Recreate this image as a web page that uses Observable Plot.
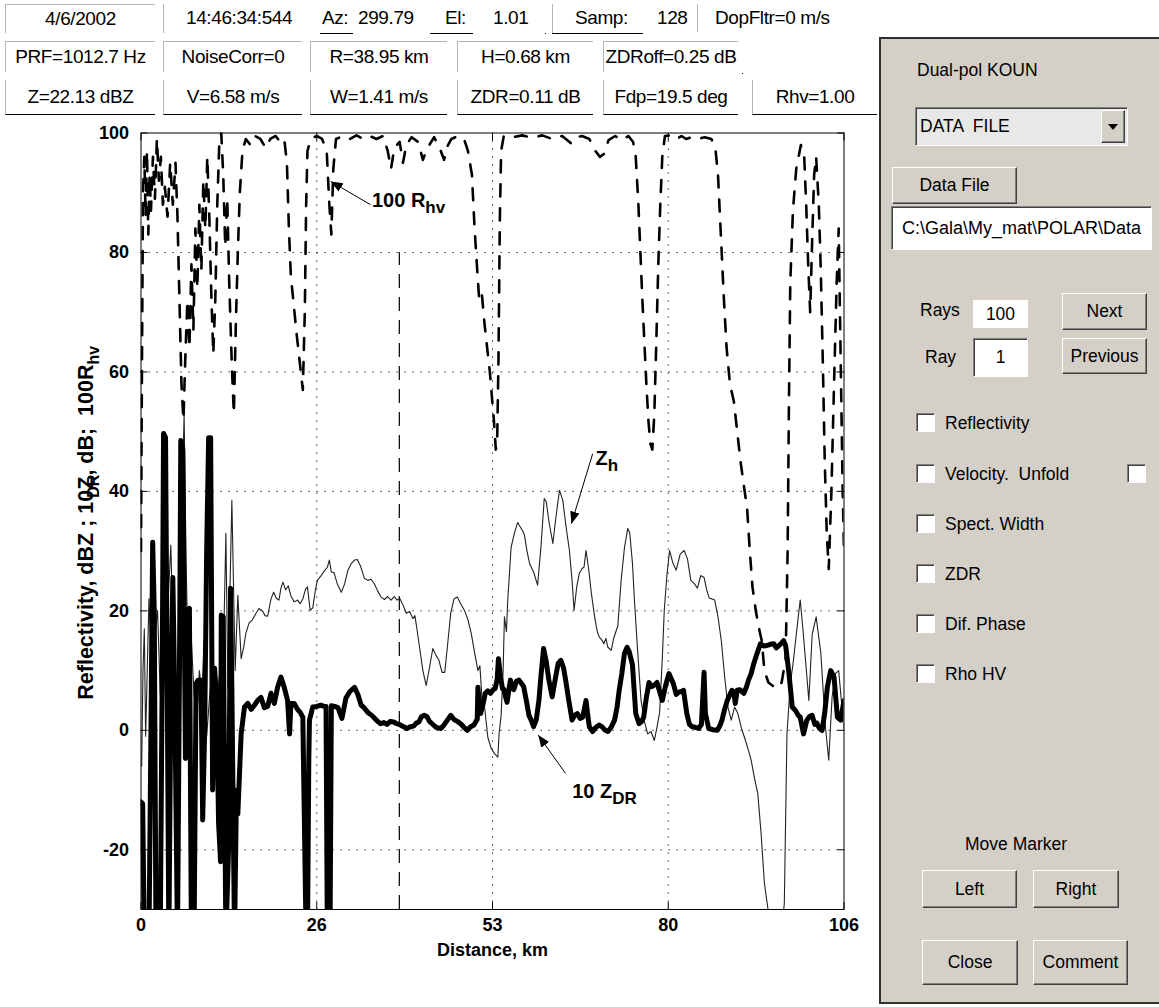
<!DOCTYPE html>
<html><head><meta charset="utf-8">
<script src="https://cdn.jsdelivr.net/npm/d3@7"></script>
<script src="https://cdn.jsdelivr.net/npm/@observablehq/plot@0.6"></script>
<style>
body{margin:0;background:#fff;font-family:"Liberation Sans",Arial,sans-serif;color:#000;}
#page{position:relative;width:1159px;height:1007px;overflow:hidden;background:#fff;}
#chart{position:absolute;left:0;top:0;width:875px;height:1007px;}
.tx{position:absolute;height:30px;display:flex;align-items:center;font-size:19px;letter-spacing:-0.4px;white-space:pre;}
.fld{position:absolute;box-sizing:border-box;display:flex;align-items:center;justify-content:center;font-size:19px;letter-spacing:-0.4px;white-space:pre;}
.r2{top:41px;height:31px;border-top:1px solid #b4b4b4;border-left:1px solid #b4b4b4;}
.r3{top:80px;height:35px;border-left:1px solid #b4b4b4;border-bottom:1px solid #000;}
.vl{position:absolute;width:1px;background:#b4b4b4;}
.hl{position:absolute;height:1px;background:#000;}
#panel{position:absolute;left:879px;top:37px;width:300px;height:967px;box-sizing:border-box;background:#d4d0c8;border:2px solid #303030;}
.pt{position:absolute;font-size:17.5px;white-space:pre;display:flex;align-items:center;}
.btn{position:absolute;box-sizing:border-box;background:#d4d0c8;border:1px solid;border-color:#fff #404040 #404040 #fff;box-shadow:inset -1px -1px #808080;display:flex;align-items:center;justify-content:center;font-size:17.5px;white-space:pre;}
.sunk{position:absolute;box-sizing:border-box;background:#fff;border:1px solid;border-color:#808080 #fff #fff #808080;box-shadow:inset 1px 1px #404040;display:flex;align-items:center;font-size:17.5px;white-space:pre;}
.cb{position:absolute;width:19px;height:19px;box-sizing:border-box;background:#fff;border:1px solid;border-color:#808080 #fff #fff #808080;box-shadow:inset 1px 1px #404040;}
</style></head>
<body>
<div id="page">
<div id="chart"></div>

<!-- header row 1 -->
<div class="fld" style="left:5px;top:4px;width:150px;height:29px;border-top:1px solid #b4b4b4;border-left:1px solid #b4b4b4;">4/6/2002</div>
<div class="vl" style="left:163px;top:4px;height:29px;"></div>
<div class="tx" style="left:186px;top:3px;">14:46:34:544</div>
<div class="tx" style="left:322px;top:3px;">Az:</div>
<div class="hl" style="left:320px;top:33px;width:33px;"></div>
<div class="tx" style="left:358px;top:3px;">299.79</div>
<div class="tx" style="left:445px;top:3px;">El:</div>
<div class="hl" style="left:430px;top:33px;width:43px;"></div>
<div class="tx" style="left:493px;top:3px;">1.01</div>
<div class="hl" style="left:545px;top:33px;width:1px;"></div>
<div class="vl" style="left:552px;top:4px;height:29px;"></div>
<div class="hl" style="left:552px;top:33px;width:91px;"></div>
<div class="tx" style="left:575px;top:3px;">Samp:</div>
<div class="tx" style="left:657px;top:3px;">128</div>
<div class="vl" style="left:697px;top:4px;height:28px;"></div>
<div class="tx" style="left:715px;top:3px;">DopFltr=0 m/s</div>
<!-- header row 2 -->
<div class="fld r2" style="left:5px;width:150px;">PRF=1012.7 Hz</div>
<div class="fld r2" style="left:163px;width:139px;">NoiseCorr=0</div>
<div class="fld r2" style="left:310px;width:137px;">R=38.95 km</div>
<div class="fld r2" style="left:457px;width:136px;">H=0.68 km</div>
<div class="fld r2" style="left:603px;width:135px;">ZDRoff=0.25 dB</div>
<div class="hl" style="left:742px;top:73px;width:1px;"></div>
<!-- header row 3 -->
<div class="fld r3" style="left:5px;width:150px;">Z=22.13 dBZ</div>
<div class="fld r3" style="left:163px;width:139px;">V=6.58 m/s</div>
<div class="fld r3" style="left:310px;width:137px;">W=1.41 m/s</div>
<div class="fld r3" style="left:457px;width:136px;">ZDR=0.11 dB</div>
<div class="fld r3" style="left:603px;width:135px;">Fdp=19.5 deg</div>
<div class="fld r3" style="left:752px;width:125px;">Rhv=1.00</div>

<!-- right panel -->
<div id="panel"></div>
<div class="pt" style="left:917px;top:60px;height:20px;">Dual-pol KOUN</div>
<div class="sunk" style="left:915px;top:107px;width:213px;height:39px;background:#e8e8e8;padding-left:4px;">DATA  FILE</div>
<div class="btn" style="left:1101px;top:110px;width:24px;height:33px;"><div style="width:0;height:0;border-left:5px solid transparent;border-right:5px solid transparent;border-top:6px solid #000;"></div></div>
<div class="btn" style="left:892px;top:167px;width:125px;height:37px;">Data File</div>
<div class="sunk" style="left:891px;top:206px;width:261px;height:44px;padding-left:10px;font-size:18px;">C:\Gala\My_mat\POLAR\Data</div>
<div class="pt" style="left:920px;top:300px;height:20px;">Rays</div>
<div class="sunk" style="left:973px;top:300px;width:55px;height:28px;justify-content:center;border:none;box-shadow:none;">100</div>
<div class="btn" style="left:1062px;top:293px;width:85px;height:37px;">Next</div>
<div class="pt" style="left:925px;top:347px;height:20px;">Ray</div>
<div class="sunk" style="left:973px;top:338px;width:55px;height:39px;justify-content:center;">1</div>
<div class="btn" style="left:1062px;top:338px;width:85px;height:36px;">Previous</div>
<div class="cb" style="left:916px;top:413px;"></div><div class="pt" style="left:945px;top:413px;height:20px;">Reflectivity</div>
<div class="cb" style="left:916px;top:464px;"></div><div class="pt" style="left:945px;top:464px;height:20px;">Velocity.  Unfold</div>
<div class="cb" style="left:1127px;top:464px;"></div>
<div class="cb" style="left:916px;top:514px;"></div><div class="pt" style="left:945px;top:514px;height:20px;">Spect. Width</div>
<div class="cb" style="left:916px;top:564px;"></div><div class="pt" style="left:945px;top:564px;height:20px;">ZDR</div>
<div class="cb" style="left:916px;top:614px;"></div><div class="pt" style="left:945px;top:614px;height:20px;">Dif. Phase</div>
<div class="cb" style="left:916px;top:664px;"></div><div class="pt" style="left:945px;top:664px;height:20px;">Rho HV</div>
<div class="pt" style="left:965px;top:834px;height:20px;">Move Marker</div>
<div class="btn" style="left:922px;top:870px;width:95px;height:38px;">Left</div>
<div class="btn" style="left:1033px;top:870px;width:86px;height:38px;">Right</div>
<div class="btn" style="left:922px;top:940px;width:96px;height:45px;">Close</div>
<div class="btn" style="left:1033px;top:940px;width:95px;height:45px;">Comment</div>
</div>

<script>
// ---- data (distance km, value) ----
const zh = [[0.1,-6],[0.3,10],[0.5,17],[0.7,-1],[0.9,8],[1.2,22],[1.5,14],[1.8,23],[2.1,16],[2.5,20],[2.9,6],[3.3,18],[3.7,12],[4.1,22],[4.5,31],[4.9,12],[5.3,2],[5.6,-4],[5.9,20],[6.2,38],[6.5,53],[6.8,28],[7.2,8],[7.6,15],[8.0,6],[8.4,2],[8.8,10],[9.2,6],[9.5,15],[9.9,-1],[10.3,5],[10.8,12],[11.3,3],[11.8,9],[12.3,6],[12.8,33],[13.1,7],[13.7,38.5],[14.2,10],[14.6,22.6],[15.1,12],[15.5,14],[15.8,16.2],[16.3,18],[16.8,18.5],[17.3,19.5],[17.8,20.4],[18.3,20],[18.7,19.2],[19.1,19.1],[19.6,22],[20.0,23.1],[20.4,22.1],[20.8,21.8],[21.1,23.8],[21.4,24.8],[21.8,23.5],[22.2,24.2],[22.6,22.5],[23.1,21.5],[23.6,21.8],[24.0,21.2],[24.4,22],[24.8,23.6],[25.1,24],[25.5,20.1],[25.9,20.5],[26.3,23.5],[26.6,25.1],[27.1,25.8],[27.6,26.6],[28.1,27.3],[28.4,28.5],[28.7,26.5],[29.1,26.4],[29.6,24.5],[30.2,23.1],[30.7,24.5],[31.2,26.8],[31.7,27.9],[32.2,28.5],[32.6,28.6],[33.1,27.5],[33.7,25.4],[34.2,25.1],[34.7,25.3],[35.2,24.5],[35.7,23.3],[36.2,22.3],[36.7,21.9],[37.2,22.4],[37.7,21.8],[38.2,22.4],[38.6,21.8],[39.0,22.1],[39.5,21.0],[40.0,19.6],[40.5,19.9],[41.0,18.7],[41.3,19.2],[41.6,17],[42.0,13.9],[42.5,10],[43.0,7.5],[43.5,10.5],[44.0,13.7],[44.5,12.5],[44.9,11.8],[45.4,9.7],[45.8,9.7],[46.2,14],[46.7,19.6],[47.2,22],[47.7,22.3],[48.2,21.2],[48.8,20],[49.3,18.5],[49.8,16.2],[50.3,13],[50.8,10],[51.1,10.8],[51.4,5.5],[51.8,3.9],[52.3,-1.2],[52.8,-3],[53.3,-3.9],[53.8,-4.5],[54.0,-0.5],[54.3,2.5],[54.6,10],[54.8,19],[55.1,16.5],[55.3,21.8],[55.6,27],[55.8,30.6],[56.3,33],[56.8,34.8],[57.1,34.2],[57.5,33.5],[57.8,32.8],[58.2,30],[58.6,27.9],[59.2,26.5],[59.8,24.3],[60.3,30.6],[60.8,38.8],[61.1,38.3],[61.5,35],[62.1,31.3],[62.6,36],[63.1,40.2],[63.6,38.5],[64.1,34],[64.6,30.1],[65.0,25],[65.3,20.1],[65.7,24],[66.1,26.3],[66.5,27.1],[66.8,27.3],[67.1,30.1],[67.5,27],[67.9,23],[68.4,19],[68.8,16.5],[69.1,15.6],[69.5,15.1],[69.8,14.5],[70.1,15.4],[70.4,13.9],[70.9,13.4],[71.3,15.5],[71.9,17.5],[72.4,25.1],[72.9,30.6],[73.4,33.8],[73.7,33],[74.1,28],[74.4,21.8],[74.9,13],[75.4,5],[75.9,1.5],[76.4,-0.6],[76.9,-0.2],[77.4,-1.7],[77.8,0.5],[78.2,3],[78.6,12],[78.9,20.1],[79.3,26],[79.7,30.1],[80.2,28],[80.7,26.8],[81.3,29.5],[81.9,30.1],[82.4,28.7],[82.9,25.1],[83.4,24.6],[83.9,23.8],[84.4,25.9],[84.9,25.6],[85.3,23.5],[85.7,22.1],[86.1,22],[86.5,21.8],[87.0,19],[87.5,15],[88.0,9],[88.5,3.9],[89.0,1.7],[89.5,3.9],[90.0,2.8],[90.5,0.5],[91.0,-1.2],[91.5,-3],[92.0,-5],[92.5,-8],[93.0,-10.6],[93.5,-17.3],[94.0,-25.6],[94.5,-29.6],[95.0,-35],[96.5,-35],[97.0,-29],[97.4,-0.6],[97.9,7.8],[98.3,11],[98.7,15],[99.1,19],[99.4,21.8],[99.8,17],[100.2,11.7],[100.7,5],[101.2,16],[101.8,19],[102.5,13],[103.2,0.6],[103.7,-5],[104.2,5.5],[104.7,9.5],[105.2,10],[105.6,5],[106,0]];

const zdr10 = [[0.0,-12],[0.25,-12.3],[0.5,-35],[1.2,-35],[1.5,0],[1.76,31.5],[2.0,20],[2.26,-35],[2.9,-35],[3.2,10],[3.4,49.7],[3.7,49],[4.0,0],[4.2,-35],[4.5,5],[4.8,25.6],[5.1,5],[5.5,-35],[5.8,10],[6.0,48.5],[6.3,47],[6.5,22],[6.7,-4.7],[7.0,20],[7.3,20.4],[7.6,-35],[8.0,-35],[8.3,7.8],[8.6,8.4],[9.05,8.4],[9.3,-15],[9.6,0],[9.9,30],[10.2,49],[10.5,49],[10.8,-10],[11.1,10.4],[11.4,5],[11.7,-15.6],[12.0,-22],[12.1,19.3],[12.4,19],[12.8,-35],[13.2,-20],[13.5,23.8],[13.7,7.2],[14.1,-35],[14.4,-10],[14.6,-14],[15.1,-0.6],[15.6,3.9],[16.1,4.5],[16.6,3.5],[17.1,4.2],[17.6,5],[18.1,5.5],[18.6,3.8],[19.1,4],[19.6,6.2],[20.1,4.5],[20.6,7.2],[21.1,8.9],[21.6,7.2],[22.1,5],[22.4,-0.6],[22.6,4.5],[23.1,4.5],[23.6,3.5],[24.0,3],[24.4,2.2],[24.7,-20],[24.9,-35],[25.1,-35],[25.3,-5],[25.4,1.7],[25.9,3.9],[26.5,4],[27.1,4.2],[27.6,4.0],[27.9,4.0],[28.1,-35],[28.5,-35],[28.7,4.1],[29.2,4.0],[29.7,3.8],[30.3,2.0],[30.9,5.4],[31.5,6.5],[32.2,7.2],[32.7,6.0],[33.2,4.2],[33.7,3.7],[34.2,3.0],[34.8,2.5],[35.4,1.8],[36.1,1.1],[36.6,1.3],[37.1,1.0],[37.6,1.5],[38.1,1.4],[38.6,1.1],[39.1,0.9],[39.6,0.6],[40.1,0.3],[40.6,0.6],[41.1,0.7],[41.5,1.2],[41.9,1.4],[42.3,2.3],[42.7,2.5],[43.1,2.3],[43.5,1.5],[43.9,1.1],[44.5,0.5],[45.2,0.3],[45.7,0.9],[46.2,1.7],[46.7,2.5],[47.2,1.8],[47.7,1.5],[48.2,1.1],[48.7,0.5],[49.2,0],[49.7,0.6],[50.2,0.9],[50.5,1.5],[50.7,1.8],[50.8,7.2],[51.0,4.5],[51.2,2.8],[51.6,4.5],[51.9,6.2],[52.3,6.6],[52.7,6.2],[53.1,6.8],[53.4,7.0],[53.7,8.5],[53.9,12],[54.2,9],[54.5,7],[54.7,6.9],[55.0,5.5],[55.2,4.7],[55.5,7],[55.7,8.4],[56.0,7],[56.2,6.8],[56.6,8.2],[57.0,8.4],[57.4,7.8],[57.7,7.3],[58.1,5],[58.5,2.5],[58.9,1.5],[59.2,0.6],[59.6,1.8],[60.0,5.0],[60.3,9],[60.7,13.7],[61.1,11.5],[61.5,8.4],[62.0,5.6],[62.5,8.8],[62.9,11.2],[63.3,11.7],[63.7,10.5],[64.0,8.6],[64.5,5],[65.0,1.7],[65.4,2.5],[65.8,2.8],[66.2,2.0],[66.6,2.2],[67.1,5.0],[67.4,2.2],[67.6,0.6],[68.1,-0.2],[68.6,0.5],[69.1,0.9],[69.6,0.5],[70.0,0],[70.4,-0.2],[70.9,0.5],[71.4,1.7],[71.8,4],[72.1,6.7],[72.5,9.5],[72.9,12.9],[73.3,13.9],[73.6,13.2],[74.1,11],[74.6,2.8],[75.1,1.1],[75.5,1.5],[75.8,2.2],[76.2,5.5],[76.6,8],[77.0,7.3],[77.3,7.5],[77.8,8],[78.2,6.5],[78.6,5],[79.1,7.5],[79.6,9.5],[80.0,8.5],[80.3,7.7],[80.7,6.0],[81.1,6.4],[81.5,6.5],[81.8,6.7],[82.3,2.8],[82.7,1.0],[83.1,0.6],[83.6,0.5],[84.1,0.3],[84.5,1.0],[84.9,9.7],[85.1,2.8],[85.6,0.3],[86.2,0.1],[86.9,0.0],[87.3,0.8],[87.6,1.7],[88.0,3.5],[88.4,5.0],[88.8,6.0],[89.1,6.7],[89.4,6.4],[89.6,4.5],[89.9,6.7],[90.3,6.8],[90.9,6.2],[91.3,7.3],[91.6,8.4],[92.0,9.5],[92.4,11.2],[92.9,12.9],[93.4,14.5],[93.9,14.1],[94.4,14.2],[94.9,14.4],[95.4,14.5],[95.8,13.8],[96.2,14.2],[96.6,14.6],[96.9,15.0],[97.2,14.2],[97.7,9.5],[98.2,3.9],[98.7,3.3],[99.1,2.5],[99.4,2.2],[99.9,-0.6],[100.4,1.7],[100.8,2.3],[101.2,2.5],[101.6,1.0],[101.9,1.2],[102.3,0.3],[102.7,0.0],[103.1,3],[103.5,7.3],[104.0,10],[104.5,8.9],[105.0,2.2],[105.5,1.7],[106.0,5.0]];

const rhv100 = [[0.0,30],[0.15,62],[0.3,90],[0.5,96],[0.7,86],[0.9,97],[1.1,83],[1.3,93],[1.5,87],[1.8,96],[2.1,89],[2.4,99],[2.7,92],[3.0,96],[3.3,88],[3.6,91],[4.0,86],[4.4,95],[4.8,88],[5.2,95],[5.5,86],[5.8,72],[6.1,58],[6.4,52],[6.7,63],[7.0,72],[7.3,64],[7.6,78],[7.9,67],[8.2,84],[8.5,74],[8.8,88],[9.1,77],[9.4,92],[9.7,84],[10.0,96],[10.3,86],[10.6,73],[10.9,63],[11.2,72],[11.5,88],[11.8,98],[12.1,100],[12.4,93],[12.7,81],[13.0,89],[13.3,75],[13.7,61],[14.0,53],[14.3,68],[14.6,80],[14.9,90],[15.3,97],[15.8,99],[16.5,98],[17.2,99.5],[18.0,99],[18.8,97.5],[19.5,99],[20.3,99.5],[21.0,98.5],[21.6,99],[22.0,95],[22.3,84],[22.6,76],[23.5,66],[24.4,57],[24.7,70],[24.9,88],[25.1,97],[25.6,99],[26.5,99.5],[27.3,99],[28.0,97],[28.4,88],[28.7,83],[29.0,94],[29.4,99],[30.5,99.5],[31.5,99],[32.5,99.6],[33.5,99],[34.5,99.5],[35.5,99],[36.5,99.5],[37.2,97],[37.7,94],[38.2,97.5],[39.0,98.5],[39.5,95],[40.0,98],[40.8,99.3],[41.8,98.5],[42.5,95.5],[43.2,97.5],[44.2,99.3],[45.2,97],[45.7,95.5],[46.2,97.8],[46.8,99],[47.8,99.5],[48.7,99],[49.3,97],[49.9,93],[50.3,84],[50.7,77],[51.0,72],[51.4,73],[51.8,68],[52.2,64],[52.6,60],[52.9,56],[53.2,52],[53.5,47],[53.7,48],[53.9,62],[54.1,85],[54.3,97],[54.7,99.5],[56.0,99.3],[57.5,99.6],[59.0,99.2],[60.5,99.6],[62.0,99],[63.5,99.5],[64.8,98.3],[65.4,99.2],[66.5,99.5],[67.6,99],[68.5,97],[69.2,96],[69.8,96.5],[70.5,98.8],[71.5,99.5],[72.5,98.8],[73.5,99.5],[74.2,98.5],[74.6,96],[75.0,88],[75.3,80],[75.6,72],[75.9,65],[76.2,58],[76.5,52],[76.8,48],[77.1,47],[77.4,53],[77.7,65],[78.0,78],[78.3,88],[78.6,96],[79.0,99.5],[80.0,99.6],[80.8,99],[81.5,99.5],[82.2,99],[83.0,99.3],[84.0,99],[85.0,99.3],[86.0,99],[86.6,97.5],[87.0,93],[87.3,86],[87.6,79],[87.9,72],[88.3,64],[88.8,58],[89.4,55],[89.9,50],[90.4,45],[90.9,41],[91.4,37],[91.8,30],[92.2,24],[92.7,20],[93.2,17],[93.6,15],[94.0,10],[94.6,8],[95.2,7.5],[95.9,7],[96.6,8],[97.2,12],[97.5,30],[97.7,55],[97.9,75],[98.3,87],[98.8,94],[99.5,98],[100.0,96],[100.3,88],[100.6,78],[100.9,70],[101.2,82],[101.5,93],[101.8,96],[102.2,88],[102.5,77],[102.8,62],[103.1,45],[103.4,33],[103.7,27],[104.1,40],[104.5,58],[104.9,75],[105.2,84],[105.5,62],[105.8,40],[106.0,30]];

const xTicks = [0, 26.5, 53, 79.5, 106];
const xTickLabels = ["0", "26", "53", "80", "106"];
const yTicks = [-20, 0, 20, 40, 60, 80, 100];
const markerKm = [38.95];
const markerTop = 80;
const arrows = [
  {x1: 34.6, y1: 88.0, x2: 28.6, y2: 91.9},
  {x1: 68.1, y1: 46.3, x2: 64.9, y2: 34.6},
  {x1: 64.0, y1: -7.2, x2: 59.9, y2: -0.8}
];
const notes = [
  {main: "100 R", sub: "hv", x: 34.9, y: 87.5},
  {main: "Z", sub: "h", x: 68.6, y: 44.3},
  {main: "10 Z", sub: "DR", x: 65.1, y: -11.4}
];

const rows = a => a.map(([d, v]) => ({d, v}));
const xLabelOf = new Map(xTicks.map((t, i) => [t, xTickLabels[i]]));
const FONT = "Liberation Sans, Arial, Helvetica, sans-serif";
const dots = "1.2,6.8";

const chart = Plot.plot({
  width: 875, height: 1007,
  marginLeft: 140.5, marginRight: 31.5, marginTop: 132.5, marginBottom: 98,
  x: {domain: [0, 106]},
  y: {domain: [-30, 100]},
  style: {background: "transparent", fontFamily: FONT, fontSize: "18px", color: "#000", overflow: "visible"},
  marks: [
    Plot.gridY(yTicks.filter(t => t < 100), {stroke: "#000", strokeOpacity: 1, strokeWidth: 1, strokeDasharray: dots}),
    Plot.gridX(xTicks.filter(t => t > 0 && t < 106), {stroke: "#000", strokeOpacity: 1, strokeWidth: 1, strokeDasharray: dots}),
    Plot.ruleX(markerKm, {x: d => d, y1: -30, y2: markerTop, stroke: "#000", strokeWidth: 1.2, strokeDasharray: "14,9"}),
    Plot.line(rows(zh), {x: "d", y: "v", stroke: "#222", strokeWidth: 1.1, clip: true}),
    Plot.line(rows(rhv100), {x: "d", y: "v", stroke: "#000", strokeWidth: 2.6, strokeDasharray: "12,12", clip: true}),
    Plot.line(rows(zdr10), {x: "d", y: "v", stroke: "#000", strokeWidth: 5, strokeLinejoin: "round", clip: true}),
    Plot.frame({stroke: "#000", strokeWidth: 1}),
    Plot.axisX(xTicks, {anchor: "bottom", tickSize: -7, tickFormat: () => "", label: null}),
    Plot.axisX(xTicks, {anchor: "top", tickSize: -7, tickFormat: () => "", label: null}),
    Plot.axisY(yTicks, {anchor: "left", tickSize: -7, tickFormat: () => "", label: null}),
    Plot.axisY(yTicks, {anchor: "right", tickSize: -7, tickFormat: () => "", label: null}),
    Plot.axisX(xTicks, {anchor: "bottom", tickSize: 0, tickPadding: 9, tickFormat: d => xLabelOf.get(d), fontSize: 18, fontWeight: "bold", label: null}),
    Plot.axisY(yTicks, {anchor: "left", tickSize: 0, tickPadding: 12, tickFormat: d => String(d), fontSize: 18, fontWeight: "bold", label: null}),
    Plot.text(["Distance, km"], {frameAnchor: "bottom", dy: 41, fontSize: 18, fontWeight: "bold", lineAnchor: "middle"}),
    Plot.link(arrows, {x1: "x1", y1: "y1", x2: "x2", y2: "y2", stroke: "#000", strokeWidth: 1})
  ]
});
document.getElementById("chart").appendChild(chart);

const svg = d3.select(chart);
const sx = chart.scale("x"), sy = chart.scale("y");
const X = v => sx.apply(v), Y = v => sy.apply(v);

// filled arrow heads
const defs = svg.append("defs");
defs.append("marker").attr("id", "ahead").attr("viewBox", "0 0 10 10").attr("refX", 10).attr("refY", 5)
  .attr("markerWidth", 12).attr("markerHeight", 12).attr("markerUnits", "userSpaceOnUse").attr("orient", "auto")
  .append("path").attr("d", "M0,1L10,5L0,9Z").attr("fill", "#000");
svg.selectAll('g[aria-label="link"] path').attr("marker-end", "url(#ahead)");

// curve labels with subscripts
notes.forEach(n => {
  const t = svg.append("text").attr("x", X(n.x)).attr("y", Y(n.y)).attr("text-anchor", "start")
    .attr("font-family", FONT).attr("font-size", 20).attr("font-weight", "bold").attr("fill", "#000");
  t.append("tspan").text(n.main);
  t.append("tspan").attr("dy", 6).attr("font-size", 17).text(n.sub);
});

// y axis title
const midY = (Y(-30) + Y(100)) / 2 + 2;
const yl = svg.append("text").attr("transform", `translate(93,${midY}) rotate(-90)`)
  .attr("text-anchor", "middle").attr("font-family", FONT).attr("font-size", 21.5).attr("font-weight", "bold").attr("fill", "#000");
yl.append("tspan").text("Reflectivity, dBZ ; 10Z");
yl.append("tspan").attr("dx", -21).attr("dy", 6).attr("font-size", 16).text("DR");
yl.append("tspan").attr("dx", -1).attr("dy", -6).text(", dB;  100R");
yl.append("tspan").attr("dy", 6).attr("font-size", 16).text("hv");
</script>
</body></html>
